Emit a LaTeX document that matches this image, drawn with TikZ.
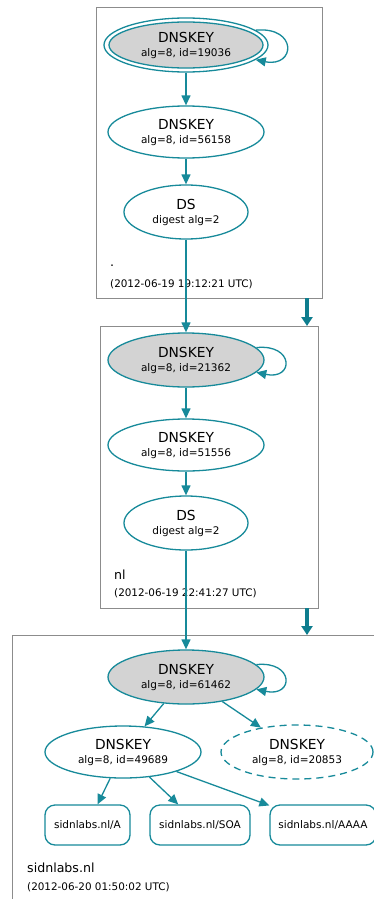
\documentclass[tikz,border=0pt]{standalone}
\usepackage{fontspec}
\setmainfont{DejaVu Sans}
\usetikzlibrary{shapes.geometric,arrows.meta,calc}
\definecolor{teal1}{HTML}{178A9A}
\definecolor{teal2}{HTML}{0E7D8E}
\definecolor{boxgray}{HTML}{8C8C8C}
\definecolor{keygray}{HTML}{D3D3D3}
\begin{document}
\begin{tikzpicture}[x=1pt,y=-1pt,
  zonebox/.style={draw=boxgray,line width=0.9pt},
  key/.style={ellipse,draw=teal1,line width=1.3pt,minimum width=156pt,minimum height=52pt,inner sep=0pt,align=center,font=\fontsize{10.5}{14}\selectfont},
  sep/.style={key,fill=keygray},
  dsnode/.style={key,minimum width=124pt,minimum height=54pt},
  rrset/.style={draw=teal1,line width=1.3pt,rounded corners=10pt,minimum height=40pt,inner sep=0pt,font=\fontsize{10.5}{12}\selectfont},
  edge/.style={draw=teal1,line width=1.3pt,-{Triangle[length=10pt,width=9pt]}},
  deleg/.style={draw=teal2,line width=4pt,-{Triangle[length=9pt,width=11pt]}},
  zlabel/.style={anchor=west,inner sep=0pt,font=\fontsize{12.6}{14}\selectfont},
  zdate/.style={anchor=west,inner sep=0pt,font=\fontsize{10.4}{12}\selectfont}
]
\useasboundingbox (0,0) rectangle (374,899);
\fill[white] (0,0) rectangle (374,899);

% zone boxes
\draw[zonebox] (96,7) rectangle (322,298);
\draw[zonebox] (100,326) rectangle (318,608);
\draw[zonebox] (390,940) -- (12,940) -- (12,635) -- (390,635);

% root zone
\node[sep,minimum width=154pt,minimum height=46pt] (k1) at (186,45) {{\fontsize{13.8}{14}\selectfont DNSKEY}\\alg=8, id=19036};
\node[ellipse,draw=teal1,line width=1.3pt,minimum width=164pt,minimum height=54pt,inner sep=0pt] (k1o) at (186,45) {};
\node[key] (k2) at (186,132) {{\fontsize{13.8}{14}\selectfont DNSKEY}\\alg=8, id=56158};
\node[dsnode] (d1) at (186,212) {{\fontsize{13.8}{14}\selectfont DS}\\digest alg=2};
\node[zlabel] (z1) at (110,266) {.};
\node[zdate] (t1) at (110,284) {(2012-06-19 19:12:21 UTC)};

% nl zone
\node[sep,minimum height=54pt] (k4) at (186,360) {{\fontsize{13.8}{14}\selectfont DNSKEY}\\alg=8, id=21362};
\node[key] (k5) at (186,445) {{\fontsize{13.8}{14}\selectfont DNSKEY}\\alg=8, id=51556};
\node[dsnode] (d2) at (186,523) {{\fontsize{13.8}{14}\selectfont DS}\\digest alg=2};
\node[zlabel] (z2) at (114,575) {nl};
\node[zdate] (t2) at (114,593) {(2012-06-19 22:41:27 UTC)};

% sidnlabs.nl zone
\node[sep,minimum height=54pt] (k7) at (186,677) {{\fontsize{13.8}{14}\selectfont DNSKEY}\\alg=8, id=61462};
\node[key] (k8) at (123,752) {{\fontsize{13.8}{14}\selectfont DNSKEY}\\alg=8, id=49689};
\node[key,dash pattern=on 7pt off 5pt,minimum width=152pt,minimum height=54pt] (k9) at (297,752) {{\fontsize{13.8}{14}\selectfont DNSKEY}\\alg=8, id=20853};
\node[rrset,minimum width=85pt] (ra) at (87.5,825) {sidnlabs.nl/A};
\node[rrset,minimum width=100pt] (rs) at (200,825) {sidnlabs.nl/SOA};
\node[rrset,minimum width=106pt] (rq) at (323,825) {sidnlabs.nl/AAAA};
\node[zlabel] (z3) at (27,868) {sidnlabs.nl};
\node[zdate] (t3) at (27,887) {(2012-06-20 01:50:02 UTC)};

% edges
\draw[edge] (k1o.south) -- (k2.north);
\draw[edge] (k2.south) -- (d1.north);
\draw[edge] (d1.south) -- (k4.north);
\draw[edge] (k4.south) -- (k5.north);
\draw[edge] (k5.south) -- (d2.north);
\draw[edge] (d2.south) -- (k7.north);
\draw[edge] (k7) -- (k8);
\draw[edge] (k7) -- (k9);
\draw[edge] (k8) -- (ra);
\draw[edge] (k8) -- (rs);
\draw[edge] (k8) -- (rq);

% self loops
\draw[edge] (k1o.12) .. controls +(42,-4) and +(40,8) .. (k1o.-12);
\draw[edge] (k4.10) .. controls +(38,-4) and +(38,8) .. (k4.-10);
\draw[edge] (k7.10) .. controls +(38,-4) and +(38,8) .. (k7.-10);

% delegation arrows
\coordinate (a1s) at (307,298);
\coordinate (a1e) at (307,326);
\coordinate (a2s) at (307,608);
\coordinate (a2e) at (307,635);
\draw[deleg] (a1s) -- (a1e);
\draw[deleg] (a2s) -- (a2e);
\end{tikzpicture}
\end{document}
